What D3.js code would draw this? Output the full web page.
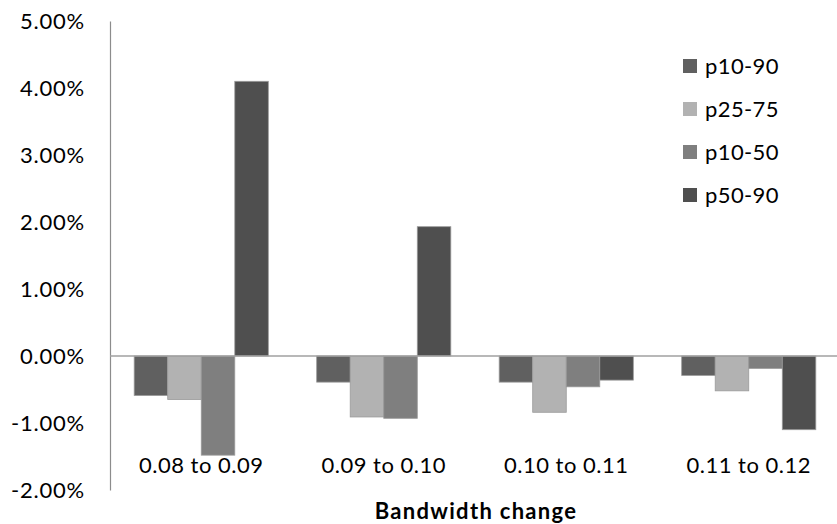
<!DOCTYPE html>
<html>
<head>
<meta charset="utf-8">
<script src="https://cdn.jsdelivr.net/npm/d3@7"></script>
<style>
  body { margin: 0; background: #fff; }
  text { font-family: Lato, "Open Sans", sans-serif; fill: #000; }
</style>
</head>
<body>
<svg id="chart" width="837" height="524"></svg>
<script>
// data
const categories = ["0.08 to 0.09", "0.09 to 0.10", "0.10 to 0.11", "0.11 to 0.12"];
const seriesNames = ["p10-90", "p25-75", "p10-50", "p50-90"];
const p10_90 = [-0.59, -0.39, -0.39, -0.29];
const p25_75 = [-0.65, -0.91, -0.84, -0.52];
const p10_50 = [-1.48, -0.93, -0.46, -0.185];
const p50_90 = [4.10, 1.93, -0.36, -1.10];
const yTicks = [-2, -1, 0, 1, 2, 3, 4, 5];
const seriesColors = ["#606060", "#b2b2b2", "#7f7f7f", "#4f4f4f"];

const seriesValues = [p10_90, p25_75, p10_50, p50_90];
const rows = categories.map((c, i) => ({
  name: c,
  values: seriesNames.map((s, j) => ({ key: s, value: seriesValues[j][i] }))
}));

const fontSize = 22;
const svg = d3.select("#chart");

// scales
const x0 = d3.scaleBand()
  .domain(categories)
  .range([110, 840])
  .paddingInner(0.265)
  .paddingOuter(0.1325);

const x1 = d3.scaleBand()
  .domain(seriesNames)
  .range([0, x0.bandwidth()]);

const y = d3.scaleLinear()
  .domain([-2, 5])
  .range([490, 21]);

const color = d3.scaleOrdinal().domain(seriesNames).range(seriesColors);

// y axis (labels only, plus vertical line)
const yAxis = d3.axisLeft(y)
  .tickValues(yTicks)
  .tickSize(0)
  .tickPadding(25)
  .tickFormat(d => d.toFixed(2) + "%");

svg.append("g")
  .attr("transform", "translate(110,0)")
  .call(yAxis)
  .call(g => g.select(".domain").attr("stroke", "#8c8c8c").attr("stroke-width", 1.2))
  .call(g => g.selectAll("text").attr("font-size", fontSize).attr("fill", "#000")
    .attr("letter-spacing", 0.8)
    .style("font-family", 'Lato, sans-serif'));

// bars
const groups = svg.append("g")
  .selectAll("g")
  .data(rows)
  .join("g")
  .attr("transform", d => `translate(${x0(d.name)},0)`);

groups.selectAll("rect")
  .data(d => d.values)
  .join("rect")
  .attr("x", d => x1(d.key))
  .attr("width", x1.bandwidth())
  .attr("y", d => y(Math.max(0, d.value)))
  .attr("height", d => Math.abs(y(d.value) - y(0)))
  .attr("fill", d => color(d.key))
  .attr("stroke", "#9a9a9a")
  .attr("stroke-width", 0.8);

// zero line
svg.append("line")
  .attr("x1", 110).attr("x2", 837)
  .attr("y1", y(0)).attr("y2", y(0))
  .attr("stroke", "#a0a0a0")
  .attr("stroke-width", 1.5);

// category labels
svg.append("g")
  .selectAll("text")
  .data(categories)
  .join("text")
  .attr("x", d => x0(d) + x0.bandwidth() / 2)
  .attr("y", 473)
  .attr("text-anchor", "middle")
  .attr("font-size", fontSize)
  .attr("letter-spacing", 0.5)
  .text(d => d);

// axis title
svg.append("text")
  .attr("x", 476)
  .attr("y", 519)
  .attr("text-anchor", "middle")
  .attr("font-size", fontSize)
  .attr("font-weight", "bold")
  .attr("letter-spacing", 1.3)
  .text("Bandwidth change");

// legend
const legend = svg.append("g")
  .selectAll("g")
  .data(seriesNames)
  .join("g")
  .attr("transform", (d, i) => `translate(683,${66 + i * 43})`);

legend.append("rect")
  .attr("x", 0).attr("y", -7)
  .attr("width", 14).attr("height", 14)
  .attr("fill", d => color(d));

legend.append("text")
  .attr("x", 22).attr("y", 8)
  .attr("font-size", fontSize)
  .attr("letter-spacing", 0.4)
  .text(d => d);
</script>
</body>
</html>
